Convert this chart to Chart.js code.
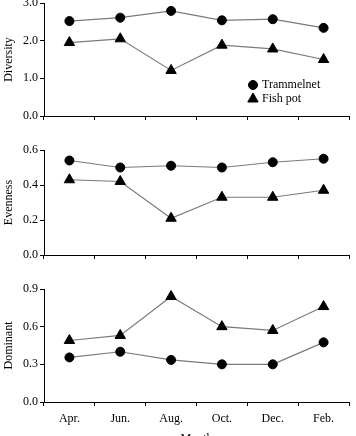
<!DOCTYPE html>
<html>
<head>
<meta charset="utf-8">
<script src="https://cdn.jsdelivr.net/npm/chart.js@4"></script>
<style>
  html, body { margin: 0; padding: 0; background: #fff; overflow: hidden; width: 356px; height: 436px; }
  canvas { position: absolute; left: 0; }
  #diversidad { top: -10px; }
  #uniformidad { top: 130px; }
  #dominancia { top: 270px; }
</style>
</head>
<body>
<canvas id="diversidad" width="356" height="140"></canvas>
<canvas id="uniformidad" width="356" height="140"></canvas>
<canvas id="dominancia" width="356" height="176"></canvas>
<script>
// Datos
const meses = ['Apr.', 'Jun.', 'Aug.', 'Oct.', 'Dec.', 'Feb.'];
const diversidadTrammel = [2.52, 2.61, 2.79, 2.54, 2.57, 2.34];
const diversidadFishPot = [1.95, 2.05, 1.21, 1.88, 1.78, 1.50];
const uniformidadTrammel = [0.54, 0.50, 0.51, 0.50, 0.53, 0.55];
const uniformidadFishPot = [0.43, 0.42, 0.21, 0.33, 0.33, 0.37];
const dominanciaTrammel = [0.355, 0.40, 0.335, 0.30, 0.30, 0.475];
const dominanciaFishPot = [0.49, 0.53, 0.84, 0.60, 0.57, 0.76];

Chart.defaults.font.family = "'Liberation Serif', 'Times New Roman', serif";
Chart.defaults.color = '#000';

// Leyenda dentro del área del gráfico superior
const leyendaInterna = {
    id: 'leyendaInterna',
    afterDraw(chart) {
        const ctx = chart.ctx;
        const area = chart.chartArea;
        ctx.save();
        chart.data.datasets.forEach((ds, i) => {
            const x = area.left + 209;
            const y = area.top + 82 + i * 14;
            ctx.fillStyle = '#000';
            ctx.strokeStyle = '#000';
            ctx.lineWidth = 1;
            Chart.helpers.drawPoint(ctx, { pointStyle: ds.pointStyle, radius: ds.pointRadius, rotation: 0, borderWidth: 1 }, x, y);
            ctx.font = "12px 'Liberation Serif', serif";
            ctx.textBaseline = 'middle';
            ctx.textAlign = 'left';
            ctx.fillText(ds.label, x + 9, y);
        });
        ctx.restore();
    }
};

function serie(label, datos, estilo) {
    return {
        label: label,
        data: datos,
        borderColor: '#7a7a7a',
        borderWidth: 1.2,
        pointStyle: estilo,
        pointRadius: estilo === 'circle' ? 4.5 : 6,
        pointBackgroundColor: '#000',
        pointBorderColor: '#000',
        pointBorderWidth: 1,
        tension: 0
    };
}

// Función para crear cada panel
function crearGrafico(id, titulo, datosA, datosB, maximo, paso, relleno, altoX, conMeses, plugins) {
    const ctx = document.getElementById(id).getContext('2d');
    new Chart(ctx, {
        type: 'line',
        data: {
            labels: meses,
            datasets: [serie('Trammelnet', datosA, 'circle'), serie('Fish pot', datosB, 'triangle')]
        },
        options: {
            responsive: false,
            animation: false,
            layout: { padding: { top: relleno, right: 5, left: 0, bottom: 0 } },
            plugins: { legend: { display: false }, tooltip: { enabled: false } },
            scales: {
                x: {
                    offset: true,
                    grid: { offset: true, drawOnChartArea: false, tickLength: 4, color: '#000' },
                    border: { color: '#000' },
                    ticks: { display: conMeses, padding: 6, font: { size: 12 } },
                    title: { display: conMeses, text: 'Month', padding: 0, font: { size: 12 } },
                    afterFit(escala) { escala.height = altoX; }
                },
                y: {
                    min: 0,
                    max: maximo,
                    ticks: { stepSize: paso, padding: 2, font: { size: 12 }, callback: v => v.toFixed(1) },
                    grid: { drawOnChartArea: false, tickLength: 4, color: '#000' },
                    border: { color: '#000' },
                    title: { display: true, text: titulo, padding: { top: 2, bottom: 0 }, font: { size: 12 } },
                    afterFit(escala) { escala.width = 44; }
                }
            }
        },
        plugins: plugins
    });
}

crearGrafico('diversidad', 'Diversity', diversidadTrammel, diversidadFishPot, 3, 1, 13, 14, false, [leyendaInterna]);
crearGrafico('uniformidad', 'Evenness', uniformidadTrammel, uniformidadFishPot, 0.6, 0.2, 20, 15, false, []);
crearGrafico('dominancia', 'Dominant', dominanciaTrammel, dominanciaFishPot, 0.9, 0.3, 19, 44, true, []);
</script>
</body>
</html>
